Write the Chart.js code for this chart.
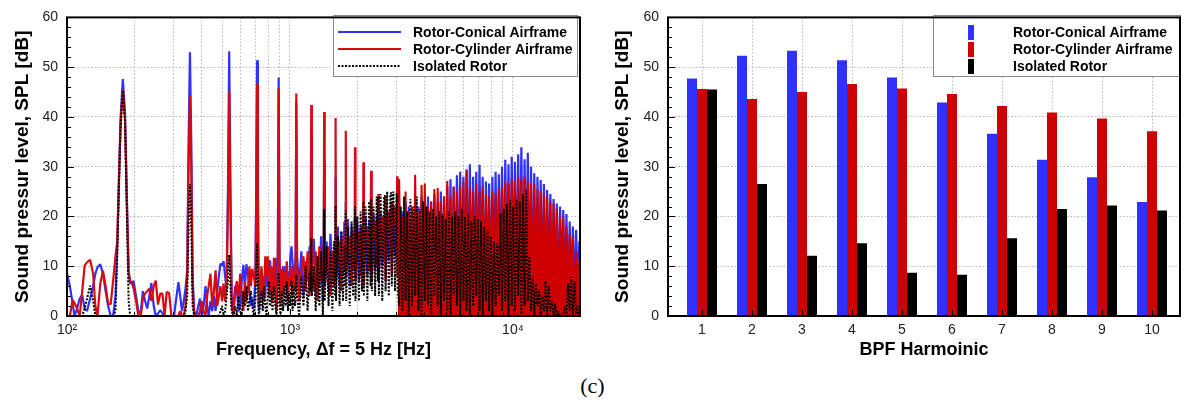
<!DOCTYPE html>
<html>
<head>
<meta charset="utf-8">
<title>SPL spectrum and BPF harmonics</title>
<script src="https://cdn.jsdelivr.net/npm/chart.js@4"></script>
<style>
  body { margin: 0; background: #fff; width: 1185px; height: 408px; position: relative; overflow: hidden; }
  canvas { position: absolute; top: 0; }
  #caption { position: absolute; left: 0; top: 375px; width: 1185px; text-align: center;
    font: 22px "Liberation Serif", "Times New Roman", serif; line-height: 22px; color: #000; }
</style>
</head>
<body>
<canvas id="spectrum" width="595" height="370" style="left:0"></canvas>
<canvas id="bpf" width="585" height="370" style="left:600px"></canvas>
<div id="caption">(c)</div>
<script>
// frequency grid [Hz], shared by the three spectra
const freqHz = [
  // 100 - 1068 Hz
  100, 103, 106, 108, 111, 114, 117, 120, 123, 127,
  131, 134, 137, 141, 145, 149, 153, 157, 161, 165,
  168, 171, 174, 178, 182, 186, 189, 192, 195, 199,
  204, 209, 214, 219, 224, 229, 234, 239, 245, 250,
  256, 262, 268, 274, 280, 287, 294, 302, 310, 316,
  322, 328, 334, 340, 346, 351, 356, 361, 366, 372,
  380, 388, 395, 402, 410, 418, 425, 432, 440, 448,
  456, 464, 472, 480, 488, 496, 504, 512, 520, 527,
  534, 541, 548, 558, 568, 578, 588, 598, 608, 618,
  628, 638, 648, 658, 668, 678, 688, 700, 706, 712,
  718, 725, 735, 745, 755, 765, 775, 785, 795, 805,
  815, 825, 835, 848, 860, 870, 882, 890, 898, 908,
  920, 932, 944, 956, 968, 980, 992, 1004, 1016, 1028,
  1040, 1052, 1060, 1068,
  // 1076 - 3040 Hz
  1076, 1100, 1125, 1150, 1175, 1200, 1225, 1238, 1246, 1254,
  1280, 1305, 1330, 1355, 1380, 1405, 1416, 1424, 1432, 1460,
  1490, 1520, 1550, 1575, 1594, 1602, 1610, 1640, 1670, 1700,
  1730, 1755, 1772, 1780, 1788, 1820, 1855, 1890, 1920, 1948,
  1958, 1968, 2005, 2040, 2075, 2105, 2126, 2136, 2146, 2185,
  2225, 2265, 2300, 2314, 2328, 2370, 2410, 2450, 2480, 2492,
  2504, 2550, 2595, 2640, 2670, 2685, 2730, 2775, 2820, 2848,
  2862, 2910, 2960, 3005, 3026, 3040,
  // 3090 - 20000 Hz
  3090, 3140, 3195, 3250, 3300, 3355, 3410, 3470, 3525, 3585,
  3645, 3705, 3770, 3830, 3895, 3960, 4025, 4095, 4160, 4230,
  4300, 4375, 4445, 4520, 4600, 4675, 4750, 4830, 4910, 4995,
  5080, 5165, 5250, 5335, 5425, 5520, 5610, 5705, 5800, 5900,
  6000, 6100, 6200, 6305, 6410, 6520, 6630, 6740, 6850, 6965,
  7085, 7200, 7320, 7445, 7570, 7700, 7825, 7960, 8090, 8230,
  8365, 8505, 8650, 8795, 8940, 9090, 9245, 9400, 9555, 9715,
  9880, 10045, 10215, 10385, 10560, 10735, 10915, 11100, 11285, 11475,
  11665, 11865, 12060, 12265, 12470, 12680, 12890, 13105, 13325, 13550,
  13775, 14010, 14240, 14480, 14725, 14970, 15220, 15475, 15735, 16000,
  16270, 16540, 16820, 17100, 17385, 17680, 17975, 18275, 18580, 18890,
  19210, 19530, 19860, 20000
];
// index of 3040 Hz, where the broadband hump starts
const humpStart = 209;

// Rotor-Conical Airframe [dB]
const conicalDb = [
  8.5, 6, 2.5, 0, 1.5, 3.5, 4.2, 1.5, 1, 3.5,
  6, 8.5, 9.8, 10.4, 8.5, 5, 2, 0, 0, 4,
  14, 28, 40, 47.6, 41, 22, 9, 6.5, 6.8, 7,
  4, 1, 0.5, 5, 3, 1.5, 4, 6.6, 2, 0,
  0.5, 1.2, 0.5, 0, 0, 0, 0, 0, 4, 6.8,
  4, 1, 3, 5.5, 9, 35, 53, 35, 8, 1,
  0, 2, 3.5, 0, 2, 6, 2, 0, 3, 1,
  4, 1, 5, 8, 10.5, 10.2, 11, 8, 5, 25,
  53.2, 25, 4, 2, 6, 5.2, 1, 2, 7, 10.3,
  6, 10.4, 8.5, 5, 2, 3.5, 1.5, 8, 26, 51.4,
  26, 1, 4, 9, 3, 8, 4, 10, 6, 11,
  11.1, 5, 9.5, 7, 11.7, 4, 12, 47.9, 12, 3,
  8, 10, 6, 10, 4, 9, 6, 12, 14, 10.5,
  6, 9.5, 12, 42.9,
  12, 6, 13, 4, 11, 7, 14, 10, 36.6, 9,
  15.5, 4, 12, 6, 16, 3, 13, 31.4, 8, 15,
  5, 16.5, 7, 12.5, 9, 27.9, 10, 18, 6, 17,
  8, 19, 10, 22.9, 11, 19.5, 6, 18, 9, 17,
  20, 8, 19, 7, 18, 10, 16, 19, 9, 20,
  8, 19, 11, 18, 8, 20.5, 9, 20, 12, 19,
  7, 21, 10, 20, 20, 8, 21, 11, 21.5, 21,
  9, 22, 12, 22, 21, 10,
  22, 3, 21, 6, 23, 1, 22, 4, 21.5, 2,
  23, 7, 22, 3, 24, 5, 22.5, 1, 24, 6,
  23, 2, 24.5, 8, 23, 3, 25, 5, 24, 1,
  26, 4, 27.5, 2, 26, 6, 28.3, 3, 29, 7,
  28, 2, 29.5, 5, 30.5, 1, 28, 6, 29, 3,
  30.4, 7, 28, 2, 27, 4, 26.6, 1, 28, 5,
  29, 3, 28.5, 6, 30, 2, 31.4, 4, 30.5, 1,
  32, 6, 31, 2, 32.5, 5, 33.9, 3, 31.5, 7,
  32.8, 2, 30, 4, 28.7, 1, 28, 6, 27.3, 3,
  26.5, 2, 25.3, 5, 24.5, 1, 23.5, 4, 22.6, 2,
  22, 6, 21.3, 3, 20.5, 1, 19, 4, 18, 2,
  17.3, 5, 15, 14
];

// Rotor-Cylinder Airframe [dB]
const cylinderDb = [
  0, 0, 3.2, 2.6, 1.5, 0, 5, 10.1, 10.8, 11.3,
  8.5, 2, 0, 6.5, 9.1, 6, 2.4, 2.4, 7, 12,
  15, 27, 39, 45.4, 40, 21, 9, 7, 6.8, 5.5,
  3, 0, 0, 3.5, 4.5, 5, 5.5, 3, 6, 7.1,
  2.3, 4.5, 4.5, 0, 4.8, 4.6, 0, 0, 0, 0,
  1, 0, 0, 2, 8, 30, 44.3, 30, 6, 0,
  0, 0, 1, 3, 1, 0, 4, 6, 8.5, 2,
  5, 9.2, 2, 4, 6, 3, 6.5, 3, 8, 22,
  45.1, 22, 2, 0, 5, 7, 3, 8.5, 4, 1,
  7, 3, 5, 10, 6, 9.5, 8, 6, 24, 46.7,
  24, 2, 6, 10, 6.5, 3, 12, 8, 12, 4,
  6, 10, 3, 11.7, 5, 1, 10, 45.7, 10, 2,
  9.5, 4, 9, 6, 11, 3, 8, 6, 10, 4,
  9, 5, 11, 44.7,
  10, 3, 9, 12, 5, 13, 4, 12, 42.4, 8,
  5, 13, 3, 14, 7, 11, 9, 41, 6, 10,
  14, 4, 13, 6, 15, 39.8, 7, 12, 15, 5,
  16, 9, 13, 37.2, 8, 14, 16, 6, 17, 10,
  33.9, 7, 15, 17, 8, 18, 11, 30.9, 6, 16,
  18, 9, 19, 29.2, 7, 17, 19, 10, 20, 24.5,
  8, 18, 20, 11, 24, 7, 19, 21, 12, 23,
  8, 20, 22, 13, 28.1, 8,
  27.5, 5, 20, 2, 25, 4, 21, 7, 22, 1,
  28.4, 3, 21, 6, 26.3, 2, 26.6, 5, 22, 8,
  23, 3, 25.5, 1, 25.7, 6, 23, 2, 24, 7,
  27.1, 3, 24, 5, 25.9, 1, 25, 6, 26, 2,
  27, 5, 29.2, 3, 26, 7, 25, 2, 26.5, 5,
  25, 1, 26, 6, 24.6, 3, 24, 7, 25, 2,
  24.6, 6, 25.5, 2, 26, 5, 27, 1, 26.5, 6,
  27.7, 3, 27, 7, 28, 2, 27.5, 5, 28, 1,
  27, 6, 26.6, 3, 26.5, 6, 25.5, 2, 25, 5,
  24.6, 1, 24, 4, 23, 2, 22.6, 5, 21.5, 1,
  20, 4, 19.9, 2, 18, 5, 16.5, 3, 15.9, 1,
  13, 4, 11.2, 9.2
];

// Isolated Rotor [dB]
const isolatedDb = [
  0, 0, 0, 0, 0, 0, 0, 1.5, 3.5, 6.1,
  3, 0, 0, 0, 0, 0, 0, 0, 0, 1,
  12, 26, 38, 45.3, 39, 18, 3, 0, 0, 0,
  0, 0, 0, 0, 0, 0, 0, 0, 0, 0,
  0, 0, 0, 0, 0, 0, 0, 0, 0, 0,
  0, 0, 0, 1, 4, 18, 26.5, 18, 2, 0,
  0, 0, 0, 0, 0, 0, 0, 0, 0, 0,
  0, 0, 0, 0, 1, 2, 0, 1, 4, 7,
  12.3, 6, 1, 0, 2, 0, 4, 1, 0, 5,
  2, 6, 1, 3, 5, 2, 0, 3, 8, 14.6,
  8, 0, 2, 5, 1, 6, 2, 0, 4, 7,
  2, 5, 1, 6, 2, 0, 3, 8.7, 3, 0,
  5, 1, 6, 2, 7, 1, 5, 2, 7, 1,
  6, 2, 4, 8.3,
  4, 0, 8, 2, 10, 1, 9, 5, 15.6, 4,
  10, 1, 12, 2, 13, 0, 8, 21.5, 3, 14,
  2, 13, 1, 15, 4, 22.2, 3, 16, 2, 17,
  3, 14, 6, 21.2, 3, 18, 2, 19, 4, 16,
  22, 3, 20, 3, 21, 5, 18, 23, 4, 22,
  3, 23, 6, 23.5, 5, 22, 4, 24, 7, 24,
  4, 24.5, 3, 24, 24.2, 5, 25, 4, 24.5, 24.8,
  6, 25, 5, 24.5, 24.5, 6,
  2, 22, 1, 24, 3, 21, 0, 23.5, 2, 22,
  4, 24, 1, 21.5, 0, 23, 3, 22, 2, 21,
  0, 21.5, 4, 20, 2, 21, 0, 20.5, 3, 19.5,
  1, 21, 0, 20, 4, 21, 2, 20, 0, 21.5,
  3, 20, 1, 20.5, 0, 19, 2, 20, 4, 19.5,
  1, 19, 0, 18, 3, 17.3, 1, 16, 0, 15,
  2, 14.6, 4, 20.6, 1, 21.5, 3, 22.5, 0, 23.3,
  2, 22, 1, 23.5, 4, 23, 0, 24.5, 2, 25.3,
  3, 12, 1, 7.9, 0, 6.5, 2, 5.2, 0, 4,
  1, 7, 0, 6, 1, 3, 0, 2.5, 0, 1,
  0, 0, 0, 2, 0, 6.5, 1, 7.9, 0, 7,
  0, 2, 0, 0
];

// log axis grid lines and labels
const freqTicks = [100, 200, 300, 400, 500, 600, 700, 800, 900,
  1000, 2000, 3000, 4000, 5000, 6000, 7000, 8000, 9000, 10000, 20000];
const decadeLabels = { 100: "10²", 1000: "10³", 10000: "10⁴" };

// BPF harmonic levels
const harmonics = [1, 2, 3, 4, 5, 6, 7, 8, 9, 10];
const barConical = [47.7, 52.3, 53.3, 51.4, 47.9, 42.9, 36.6, 31.4, 27.9, 22.9];
const barCylinder = [45.6, 43.6, 45.0, 46.6, 45.7, 44.6, 42.2, 40.9, 39.7, 37.1];
const barIsolated = [45.5, 26.5, 12.1, 14.6, 8.7, 8.3, 15.6, 21.5, 22.2, 21.2];

const splTicks = [0, 10, 20, 30, 40, 50, 60];

const blue = "rgb(48, 48, 255)";
const red = "rgb(214, 10, 16)";
const humpRed = "rgb(206, 0, 0)";
const barRed = "rgb(206, 0, 0)";
const gridColor = "#b4b4b4";

Chart.defaults.font.family = '"Liberation Sans", Arial, sans-serif';
Chart.defaults.color = "#222";

// box + inward tick marks, tecplot style
const frameTicks = {
  id: "frameTicks",
  afterDraw(chart, args, opts) {
    const { ctx, chartArea: a, scales } = chart;
    ctx.save();
    ctx.strokeStyle = "#000";
    ctx.lineWidth = 1;
    ctx.beginPath();
    for (let v = 0; v <= 60; v += 2) {
      const py = Math.round(scales.y.getPixelForValue(v)) + 0.5;
      const len = v % 10 === 0 ? 7 : 4;
      ctx.moveTo(a.left, py);
      ctx.lineTo(a.left + len, py);
    }
    opts.marks.forEach((m) => {
      const px = Math.round(scales.x.getPixelForValue(m.v)) + 0.5;
      ctx.moveTo(px, a.bottom);
      ctx.lineTo(px, a.bottom - m.len);
    });
    ctx.stroke();
    ctx.lineWidth = 2;
    ctx.strokeRect(a.left, a.top, a.right - a.left, a.bottom - a.top);
    ctx.restore();
  },
};

// legend inside the plot, upper right
const boxLegend = {
  id: "boxLegend",
  afterDraw(chart, args, o) {
    const ctx = chart.ctx;
    ctx.save();
    ctx.fillStyle = "#fff";
    ctx.fillRect(o.x, o.y, o.w, o.h);
    ctx.strokeStyle = "#8a8a8a";
    ctx.lineWidth = 1;
    ctx.strokeRect(o.x + 0.5, o.y + 0.5, o.w, o.h);
    ctx.font = 'bold 14px "Liberation Sans", Arial, sans-serif';
    ctx.textBaseline = "middle";
    chart.data.datasets
      .filter((ds) => ds.inLegend !== false)
      .forEach((ds, i) => {
        const ry = o.y + 17 + i * 17;
        if (o.kind === "line") {
          ctx.strokeStyle = ds.borderColor;
          ctx.lineWidth = 2;
          ctx.setLineDash(ds.borderDash || []);
          ctx.beginPath();
          ctx.moveTo(o.x + 5, ry);
          ctx.lineTo(o.x + 68, ry);
          ctx.stroke();
          ctx.setLineDash([]);
        } else {
          ctx.fillStyle = ds.backgroundColor;
          ctx.fillRect(o.x + 35, ry - 7, 6, 15);
        }
        ctx.fillStyle = "#000";
        ctx.fillText(ds.label, o.x + 80, ry + 1);
      });
    ctx.restore();
  },
};

function yAxis(width) {
  return {
    min: 0,
    max: 60,
    afterBuildTicks: (s) => {
      s.ticks = splTicks.map((v) => ({ value: v }));
    },
    afterFit: (s) => {
      s.width = width;
    },
    ticks: { padding: 9, font: { size: 14 }, color: "#222" },
    grid: { color: gridColor, lineWidth: 1, drawTicks: false },
    border: { display: false, dash: [1.5, 2] },
    title: {
      display: true,
      text: "Sound pressur level, SPL [dB]",
      color: "#000",
      font: { size: 19, weight: "bold" },
      padding: { top: 11, bottom: 0 },
    },
  };
}

function xTitle(text) {
  return {
    display: true,
    text: text,
    color: "#000",
    font: { size: 18, weight: "bold" },
    padding: { top: 0, bottom: 9 },
  };
}

function points(ys, from, to) {
  return freqHz.slice(from, to).map((f, i) => ({ x: f, y: ys[from + i] }));
}

// left: narrowband spectrum
new Chart(document.getElementById("spectrum"), {
  type: "line",
  data: {
    datasets: [
      { label: "Rotor-Conical Airframe", data: points(conicalDb, 0), borderColor: blue,
        borderWidth: 2.2, pointRadius: 0, borderJoinStyle: "bevel", order: 4 },
      { label: "Rotor-Cylinder Airframe", data: points(cylinderDb, 0, humpStart + 1),
        borderColor: red, borderWidth: 2.2, pointRadius: 0, borderJoinStyle: "bevel", order: 3 },
      { label: "Isolated Rotor", data: points(isolatedDb, 0), borderColor: "#000",
        borderWidth: 2, borderDash: [2, 1.5], pointRadius: 0, borderJoinStyle: "bevel", order: 1 },
      // dense broadband part of the cylinder case, drawn as a filled mass
      { label: "Rotor-Cylinder Airframe", inLegend: false, data: points(cylinderDb, humpStart),
        borderColor: humpRed, backgroundColor: humpRed, fill: "origin",
        borderWidth: 2, pointRadius: 0, borderJoinStyle: "bevel", order: 2 },
    ],
  },
  options: {
    responsive: false,
    animation: false,
    devicePixelRatio: 1,
    layout: { padding: { top: 13, right: 15, left: 0, bottom: 0 } },
    plugins: {
      legend: { display: false },
      tooltip: { enabled: false },
      filler: { propagate: false },
      boxLegend: { kind: "line", x: 333, y: 15, w: 244, h: 61 },
      frameTicks: {
        marks: freqTicks.map((v) => ({ v: v, len: decadeLabels[v] ? 7 : 4 })),
      },
    },
    scales: {
      x: {
        type: "logarithmic",
        min: 100,
        max: 20000,
        afterBuildTicks: (s) => {
          s.ticks = freqTicks.map((v) => ({ value: v }));
        },
        afterFit: (s) => {
          s.height = 54;
        },
        ticks: {
          autoSkip: false,
          maxRotation: 0,
          padding: 6,
          font: { size: 14 },
          color: "#222",
          callback: (v) => decadeLabels[v] || "",
        },
        grid: { color: gridColor, lineWidth: 1, drawTicks: false },
        border: { display: false, dash: [1.5, 2] },
        title: xTitle("Frequency, Δf = 5 Hz [Hz]"),
      },
      y: yAxis(67),
    },
  },
  plugins: [boxLegend, frameTicks],
});

// right: levels at the BPF harmonics
new Chart(document.getElementById("bpf"), {
  type: "bar",
  data: {
    datasets: [
      { label: "Rotor-Conical Airframe", backgroundColor: blue,
        data: harmonics.map((h, i) => ({ x: h, y: barConical[i] })) },
      { label: "Rotor-Cylinder Airframe", backgroundColor: barRed,
        data: harmonics.map((h, i) => ({ x: h, y: barCylinder[i] })) },
      { label: "Isolated Rotor", backgroundColor: "#000",
        data: harmonics.map((h, i) => ({ x: h, y: barIsolated[i] })) },
    ],
  },
  options: {
    responsive: false,
    animation: false,
    devicePixelRatio: 1,
    datasets: { bar: { categoryPercentage: 0.6, barPercentage: 1 } },
    layout: { padding: { top: 13, right: 5, left: 0, bottom: 0 } },
    plugins: {
      legend: { display: false },
      tooltip: { enabled: false },
      boxLegend: { kind: "bar", x: 333, y: 15, w: 247, h: 61 },
      frameTicks: { marks: harmonics.map((h) => ({ v: h, len: 6 })) },
    },
    scales: {
      x: {
        type: "linear",
        min: 0.32,
        max: 10.56,
        offset: false,
        afterBuildTicks: (s) => {
          s.ticks = harmonics.map((v) => ({ value: v }));
        },
        afterFit: (s) => {
          s.height = 54;
        },
        ticks: {
          autoSkip: false,
          maxRotation: 0,
          padding: 6,
          font: { size: 14 },
          color: "#222",
          callback: (v) => String(v),
        },
        grid: { color: gridColor, lineWidth: 1, drawTicks: false, offset: false },
        border: { display: false, dash: [1.5, 2] },
        title: xTitle("BPF Harmoinic"),
      },
      y: yAxis(68),
    },
  },
  plugins: [boxLegend, frameTicks],
});
</script>
</body>
</html>
